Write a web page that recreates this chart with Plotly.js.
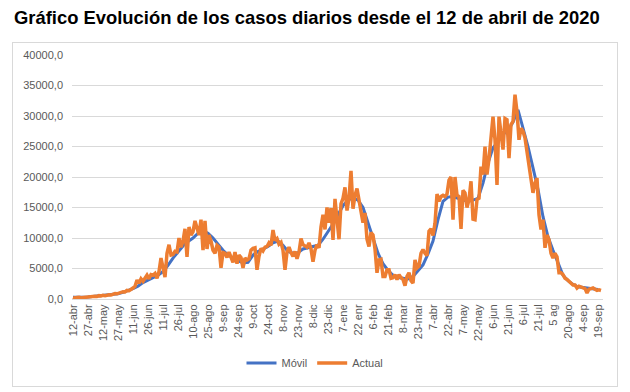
<!DOCTYPE html>
<html>
<head>
<meta charset="utf-8">
<script src="https://cdn.plot.ly/plotly-3.0.1.min.js"></script>
<style>
  html, body { margin: 0; padding: 0; background: #ffffff; }
  #wrap { position: relative; width: 630px; height: 392px; }
  #chart { position: absolute; left: 0; top: 0; width: 630px; height: 392px; }
  #frame { position: absolute; left: 12px; top: 42px; width: 604px; height: 343px;
           border: 1px solid #d9d9d9; pointer-events: none; }
</style>
</head>
<body>
<div id="wrap">
  <div id="chart"></div>
  <div id="frame"></div>
</div>
<script>
// ---------------- data ----------------
const startDate = '2020-04-12';

// Móvil (moving average), one value every 5 days from 12-abr-2020
const movilStepDays = 5;
const movil = [
  300, 250, 280, 320, 400, 450, 550, 620, 750, 850,
  1100, 1350, 1700, 2100, 2700, 3100, 3500, 3900, 4500, 5500,
  6700, 7700, 8700, 9400, 10000, 10800, 11200, 10800, 10000, 9000,
  8000, 7200, 6700, 6300, 5900, 6000, 7200, 7800, 8200, 8600,
  9200, 9500, 8800, 7800, 7500, 7600, 8200, 8400, 8500, 8800,
  9800, 11000, 12300, 13800, 15300, 16200, 16600, 16200, 15000, 12500,
  9800, 7500, 5800, 4700, 3900, 3500, 3400, 3300, 3700, 4600,
  5600, 7400, 9500, 13000, 16000, 16700, 16800, 16500, 16300, 16000,
  16200, 16500, 19000, 22300, 24800, 25800, 27000, 27600, 29000, 31000,
  28000, 25000, 21500, 18000, 13500, 10200, 8000, 5800, 3900, 3000,
  2400, 2000, 1900, 1800, 1650, 1550
];

// Actual (daily cases), one value every 2 days from 12-abr-2020
const actualStepDays = 2;
const actual = [
  280, 150, 250, 300, 200, 250, 300, 280, 350, 400,
  380, 450, 420, 550, 500, 600, 550, 650, 700, 650,
  800, 900, 850, 1000, 1100, 1200, 1150, 1400, 1350, 1500,
  1800, 2100, 3100, 2600, 3300, 2900, 3500, 3900, 3300, 4000,
  3900, 4200, 3400, 4500, 6700, 5000, 3600, 7500, 8900, 7200,
  7300, 7800, 7700, 10000, 8500, 9500, 11500, 6900, 11800, 10500,
  11000, 12800, 11500, 10500, 13000, 8000, 12800, 8200, 10500, 9500,
  8000, 7500, 8800, 8500, 5100, 7600, 7500, 6800, 7700, 7000,
  6000, 7700, 5800, 7200, 6800, 5100, 6700, 6400, 6600, 8000,
  8300, 8400, 4800, 7000, 8300, 7900, 8500, 8600, 9200, 8800,
  11300, 9600, 9900, 9000, 9300, 8000, 4800, 7700, 8500, 7600,
  7000, 7800, 6600, 7700, 9900, 8900, 8700, 8500, 9200, 8200,
  6100, 8000, 8900, 8400, 11800, 13800, 11400, 15000, 12500, 14900,
  9700, 16400, 13000, 9800, 15600, 16500, 18300, 14500, 16500, 21000,
  14800, 17000, 18100, 16000, 14800, 12500, 14100, 9800, 8600, 10900,
  10500, 8200, 4300, 6400, 6500, 3700, 3700, 4800, 4800, 3400,
  3500, 4000, 3200, 4000, 3500, 3200, 2200, 3700, 4300, 3000,
  2600, 6400, 5100, 5400, 7500, 8100, 7500, 7100, 11100, 11500,
  10400, 12400, 17200, 16000, 16800, 17000, 16800, 17200, 19500, 20000,
  13000, 20000, 17000, 16800, 11500, 17800, 17400, 15000, 16300, 19300,
  13100, 13000, 16300, 16500, 21700, 20400, 25000, 20400, 23000, 26900,
  29900, 26100, 18700, 29900, 27500, 24500, 29600, 29400, 23100, 28600,
  29100, 33500, 30700, 26100, 28000, 27500, 26400, 24000, 21500, 20100,
  17400, 19000, 19800, 13800, 11400, 13000, 8400, 10500, 9700, 7500,
  6700, 7500, 6900, 4300, 4300, 4000, 3400, 3200, 2900, 2600,
  2300, 2300, 1800, 2100, 2000, 1900, 1700, 1000, 1600, 1700,
  1800, 1600, 1400, 1500, 1400
];

// x tick labels, one every 15 days from 12-abr-2020
const xTickStepDays = 15;
const xTickLabels = [
  '12-abr','27-abr','12-may','27-may','11-jun','26-jun','11-jul','26-jul',
  '10-ago','25-ago','9-sep','24-sep','9-oct','24-oct','8-nov','23-nov',
  '8-dic','23-dic','7-ene','22 enr','6-feb','21-feb','8-mar','23-mar',
  '7-abr','22-abr','7-may','22-may','6-jun','21-jun','6-jul','21-jul',
  '5 ag','20-ago','4-sep','19-sep'
];

// y tick labels
const yTickValues = [0, 5000, 10000, 15000, 20000, 25000, 30000, 35000, 40000];
const yTickLabels = ['0,0','5000,0','10000,0','15000,0','20000,0','25000,0','30000,0','35000,0','40000,0'];

const seriesNames = ['Móvil', 'Actual'];
const titleText = 'Gráfico Evolución de los casos diarios desde el 12 de abril de 2020';

// ---------------- helpers ----------------
const DAY = 86400000;
const t0 = Date.parse(startDate + 'T00:00:00Z');
function dayToISO(d) {
  return new Date(t0 + d * DAY).toISOString().slice(0, 10);
}
function datesFor(n, step) {
  const out = [];
  for (let i = 0; i < n; i++) out.push(dayToISO(i * step));
  return out;
}

const movilX = datesFor(movil.length, movilStepDays);
const actualX = datesFor(actual.length, actualStepDays);
const xTickVals = datesFor(xTickLabels.length, xTickStepDays);

const traces = [
  {
    type: 'scatter', mode: 'lines', name: seriesNames[0],
    x: movilX, y: movil,
    line: { color: '#4472C4', width: 3 }
  },
  {
    type: 'scatter', mode: 'lines', name: seriesNames[1],
    x: actualX, y: actual,
    line: { color: '#ED7D31', width: 3.5 }
  }
];

const tickFont = { family: 'Liberation Sans, Arial, sans-serif', size: 11, color: '#595959' };

const layout = {
  width: 630, height: 392,
  margin: { l: 72, r: 27, t: 55, b: 93, pad: 0 },
  paper_bgcolor: 'rgba(0,0,0,0)',
  plot_bgcolor: 'rgba(0,0,0,0)',
  title: {
    text: titleText,
    font: { family: 'Liberation Sans, Arial, sans-serif', size: 18.4, color: '#000000', weight: 'bold' },
    xref: 'container', x: 14 / 630, xanchor: 'left',
    yref: 'container', y: 1 - 18 / 392, yanchor: 'middle'
  },
  xaxis: {
    type: 'date',
    range: [dayToISO(-1), dayToISO(530)],
    tickmode: 'array',
    tickvals: xTickVals,
    ticktext: xTickLabels,
    tickangle: -90,
    tickfont: tickFont,
    showgrid: false,
    showline: true, linecolor: '#d9d9d9', linewidth: 1,
    ticks: '', zeroline: false,
    fixedrange: true
  },
  yaxis: {
    range: [0, 40000],
    tickmode: 'array',
    tickvals: yTickValues,
    ticktext: yTickLabels,
    tickfont: tickFont,
    showgrid: true, gridcolor: '#d9d9d9', gridwidth: 1,
    zeroline: false, showline: false, ticks: '',
    ticklabelstandoff: 8,
    fixedrange: true
  },
  showlegend: true,
  legend: {
    orientation: 'h',
    x: (315 - 72) / 531, xanchor: 'center',
    y: (299 - 363) / 244, yanchor: 'middle',
    font: { family: 'Liberation Sans, Arial, sans-serif', size: 11, color: '#595959' },
    bgcolor: 'rgba(0,0,0,0)'
  }
};

Plotly.newPlot('chart', traces, layout, { displayModeBar: false, staticPlot: true });
</script>
</body>
</html>
